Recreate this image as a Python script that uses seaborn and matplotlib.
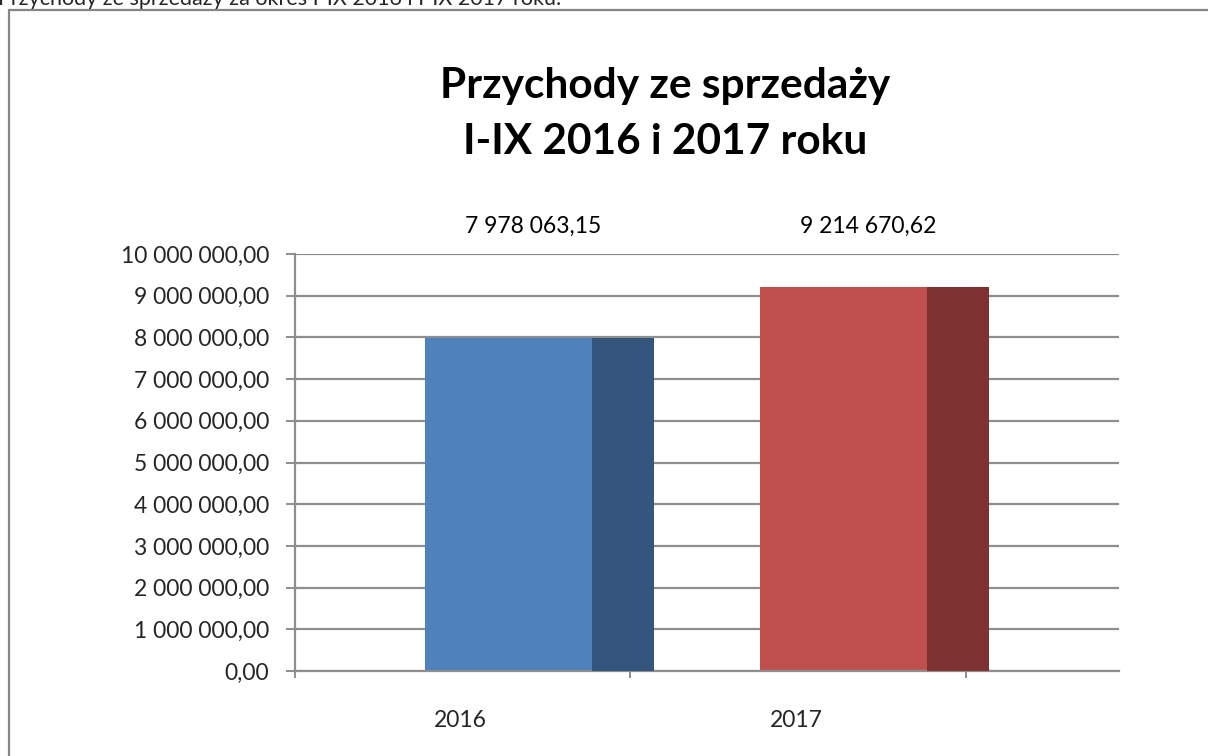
import matplotlib
matplotlib.use("Agg")
import matplotlib.pyplot as plt
from matplotlib.lines import Line2D
from matplotlib.ticker import FuncFormatter
import pandas as pd
import seaborn as sns

# =============== DATA ===============
years = ["2016", "2017"]
revenue = [7978063.15, 9214670.62]
front_colors = ["#4F81BD", "#C0504D"]
side_colors = ["#34557C", "#7D3231"]

title_lines = ["Przychody ze sprzedaży", "I-IX 2016 i 2017 roku"]
header_text = "Przychody ze sprzedaży za okres I-IX 2016 i I-IX 2017 roku."

df = pd.DataFrame({"rok": years, "przychody": revenue})


def pl_format(v, pos=None):
    # Polish style: space as thousands separator, comma as decimal mark
    return f"{v:,.2f}".replace(",", " ").replace(".", ",")


# =============== STYLE ===============
sns.set_style("white")
plt.rcParams["font.family"] = ["Lato", "DejaVu Sans"]
GRID = "#8E8E8E"
FONT_SIZE = 16.5

fig = plt.figure(figsize=(12.08, 7.56), dpi=100)
ax = fig.add_axes([0.2442, 0.1124, 0.9263 - 0.2442, 0.664 - 0.1124])

# front faces of the columns
sns.barplot(data=df, x="rok", y="przychody", hue="rok", palette=front_colors,
            width=0.5, legend=False, ax=ax, saturation=1)
for p in ax.patches:
    p.set_linewidth(0)

# side faces (pseudo 3D depth)
depth = 0.185
for i, v in enumerate(revenue):
    ax.bar(i + 0.25, v, width=depth, align="edge", color=side_colors[i],
           linewidth=0, zorder=3)
    ax.text(i + 0.075, 10.66e6, pl_format(v), ha="center", va="center",
            fontsize=FONT_SIZE, color="black", clip_on=False)

ax.set_ylim(0, 10e6)
ax.set_xlim(-0.637, 1.822)
ax.set_yticks(range(0, 10_000_001, 1_000_000))
ax.yaxis.set_major_formatter(FuncFormatter(pl_format))
ax.yaxis.grid(True, color=GRID, linewidth=1.6)
ax.set_axisbelow(True)

# x axis: ticks on category boundaries, labels placed under the bars
ax.set_xticks([-0.637, 0.363, 1.366])
ax.set_xticklabels(["", "", ""])
for i, y in enumerate(years):
    ax.text(i - 0.142, -0.118, y, transform=ax.get_xaxis_transform(),
            ha="center", va="center", fontsize=FONT_SIZE)

ax.set_xlabel("")
ax.set_ylabel("")
for s in ["top", "right"]:
    ax.spines[s].set_visible(False)
for s in ["left", "bottom"]:
    ax.spines[s].set_color(GRID)
    ax.spines[s].set_linewidth(1.6)
ax.tick_params(axis="y", direction="out", length=6.5, width=1.4, color=GRID,
               labelsize=FONT_SIZE, pad=12, left=True)
ax.tick_params(axis="x", direction="out", length=5, width=1.4, color=GRID,
               bottom=True)

# =============== TITLE & FRAME ===============
fig.text(0.5505, 1 - 98 / 756, title_lines[0], ha="center", va="baseline",
         fontsize=30.5, fontweight="bold", color="black")
fig.text(0.5505, 1 - 154 / 756, title_lines[1], ha="center", va="baseline",
         fontsize=30.5, fontweight="bold", color="black")
# page text above the chart, cut by the top edge as in the source
fig.text(-0.002, 1 - 5 / 756, header_text, ha="left", va="baseline",
         fontsize=15.5)

fig.add_artist(Line2D([9 / 1208, 1], [1 - 10 / 756, 1 - 10 / 756],
                      transform=fig.transFigure, color="#868686", linewidth=1.6))
fig.add_artist(Line2D([9 / 1208, 9 / 1208], [0, 1 - 10 / 756],
                      transform=fig.transFigure, color="#868686", linewidth=1.6))

fig.savefig("out.png", dpi=100)
